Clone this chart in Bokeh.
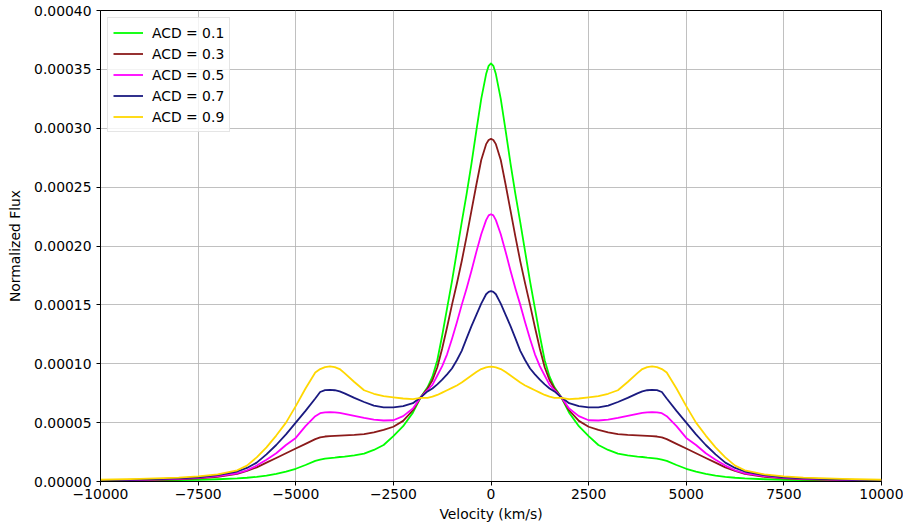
from bokeh.plotting import figure
from bokeh.models import Range1d, FixedTicker, PrintfTickFormatter, ColumnDataSource
from bokeh.embed import file_html
from bokeh.resources import INLINE

# ---- data (flux values in units of 1e-6) ----
velocity = [-10000, -9000, -8000, -7500, -7000, -6500, -6250, -6000, -5750, -5500,
            -5250, -5000, -4750, -4500, -4375, -4250, -4125, -4000, -3875, -3750,
            -3500, -3250, -3000, -2750, -2500, -2250, -2000, -1800, -1625, -1500,
            -1375, -1250, -1125, -1000, -875, -750, -625, -500, -375, -250,
            -125, -60, 0,
            60, 125, 250, 375, 500, 625, 750, 875, 1000, 1125,
            1250, 1375, 1500, 1625, 1800, 2000, 2250, 2500, 2750, 3000,
            3250, 3500, 3750, 3875, 4000, 4125, 4250, 4375, 4500, 4750,
            5000, 5250, 5500, 5750, 6000, 6250, 6500, 7000, 7500, 8000,
            9000, 10000]

acd_01 = [0.5, 0.7, 1.1, 1.4, 1.9, 2.6, 3.2, 4.0, 5.0, 6.5,
          8.4, 10.8, 14.0, 17.5, 18.5, 19.4, 19.9, 20.3, 20.8, 21.2,
          22.2, 23.7, 26.8, 31.0, 38.5, 47.0, 58.5, 71.5, 80.0, 89.0,
          103.0, 124.0, 147.0, 170.0, 195.0, 220.0, 244.0, 270.0, 298.0, 325.0,
          346.0, 353.0, 355.0,
          353.0, 346.0, 325.0, 298.0, 270.0, 244.0, 220.0, 195.0, 170.0, 147.0,
          124.0, 103.0, 89.0, 80.0, 71.5, 58.5, 47.0, 38.5, 31.0, 26.8,
          23.7, 22.2, 21.2, 20.8, 20.3, 19.9, 19.4, 18.5, 17.5, 14.0,
          10.8, 8.4, 6.5, 5.0, 4.0, 3.2, 2.6, 1.9, 1.4, 1.1,
          0.7, 0.5]

acd_03 = [0.8, 1.2, 1.9, 2.6, 4.0, 6.5, 9.0, 12.0, 16.0, 20.0,
          24.0, 28.0, 32.0, 36.0, 37.5, 38.2, 38.6, 38.8, 39.0, 39.2,
          39.6, 40.3, 41.8, 43.8, 46.5, 51.5, 60.5, 71.5, 79.0, 86.0,
          97.0, 113.0, 131.0, 150.0, 168.0, 187.0, 208.0, 230.0, 252.0, 273.0,
          286.5, 290.0, 291.0,
          290.0, 286.5, 273.0, 252.0, 230.0, 208.0, 187.0, 168.0, 150.0, 131.0,
          113.0, 97.0, 86.0, 79.0, 71.5, 60.5, 51.5, 46.5, 43.8, 41.8,
          40.3, 39.6, 39.2, 39.0, 38.8, 38.6, 38.2, 37.5, 36.0, 32.0,
          28.0, 24.0, 20.0, 16.0, 12.0, 9.0, 6.5, 4.0, 2.6, 1.9,
          1.2, 0.8]

acd_05 = [0.9, 1.4, 2.3, 3.2, 4.5, 7.0, 9.5, 13.5, 18.5, 24.0,
          31.0, 37.0, 47.0, 55.5, 58.0, 58.7, 58.9, 58.7, 58.2, 57.5,
          55.8, 54.0, 52.6, 51.8, 52.0, 55.5, 62.0, 71.5, 77.5, 82.0,
          90.0, 98.0, 108.0, 121.0, 135.0, 150.0, 164.0, 179.0, 195.0, 210.0,
          222.0, 226.0, 227.0,
          226.0, 222.0, 210.0, 195.0, 179.0, 164.0, 150.0, 135.0, 121.0, 108.0,
          98.0, 90.0, 82.0, 77.5, 71.5, 62.0, 55.5, 52.0, 51.8, 52.6,
          54.0, 55.8, 57.5, 58.2, 58.7, 58.9, 58.7, 58.0, 55.5, 47.0,
          37.0, 31.0, 24.0, 18.5, 13.5, 9.5, 7.0, 4.5, 3.2, 2.3,
          1.4, 0.9]

acd_07 = [1.0, 1.6, 2.6, 3.6, 5.5, 8.5, 11.5, 16.0, 23.0, 31.0,
          40.0, 50.0, 60.0, 70.5, 76.0, 77.6, 77.9, 77.5, 76.5, 74.8,
          71.0, 67.5, 64.5, 63.0, 63.0, 64.0, 66.5, 71.5, 76.5, 79.0,
          82.5, 86.5, 91.0, 96.0, 103.0, 111.0, 121.5, 132.0, 141.5, 151.0,
          159.0, 161.0, 161.6,
          161.0, 159.0, 151.0, 141.5, 132.0, 121.5, 111.0, 103.0, 96.0, 91.0,
          86.5, 82.5, 79.0, 76.5, 71.5, 66.5, 64.0, 63.0, 63.0, 64.5,
          67.5, 71.0, 74.8, 76.5, 77.5, 77.9, 77.6, 76.0, 70.5, 60.0,
          50.0, 40.0, 31.0, 23.0, 16.0, 11.5, 8.5, 5.5, 3.6, 2.6,
          1.6, 1.0]

acd_09 = [1.5, 2.2, 3.3, 4.3, 6.0, 9.5, 13.5, 20.5, 29.0, 39.0,
          50.0, 64.0, 79.0, 92.5, 95.5, 97.2, 97.7, 97.2, 95.5, 92.0,
          84.5, 77.5, 74.5, 72.5, 71.5, 70.5, 70.0, 71.0, 71.0, 72.0,
          73.5, 75.5, 77.5, 79.5, 81.5, 84.0, 87.0, 90.0, 93.0, 95.5,
          97.0, 97.4, 97.5,
          97.4, 97.0, 95.5, 93.0, 90.0, 87.0, 84.0, 81.5, 79.5, 77.5,
          75.5, 73.5, 72.0, 71.0, 71.0, 70.0, 70.5, 71.5, 72.5, 74.5,
          77.5, 84.5, 92.0, 95.5, 97.2, 97.7, 97.2, 95.5, 92.5, 79.0,
          64.0, 50.0, 39.0, 29.0, 20.5, 13.5, 9.5, 6.0, 4.3, 3.3,
          2.2, 1.5]

series_labels = ["ACD = 0.1", "ACD = 0.3", "ACD = 0.5", "ACD = 0.7", "ACD = 0.9"]
series_values = [acd_01, acd_03, acd_05, acd_07, acd_09]
series_colors = ["#00ff00", "#8b1a1a", "#ff00ff", "#1a1a80", "#ffd700"]

x_ticks = [-10000, -7500, -5000, -2500, 0, 2500, 5000, 7500, 10000]
y_ticks = [0.0, 0.00005, 0.0001, 0.00015, 0.0002, 0.00025, 0.0003, 0.00035, 0.0004]

FONT = "DejaVu Sans"
FS = "13.9px"

p = figure(width=903, height=531, output_backend="svg", toolbar_location=None,
           x_range=Range1d(-10000, 10000), y_range=Range1d(0, 0.0004),
           min_border_left=100, min_border_right=22, min_border_top=10,
           min_border_bottom=50)

for lab, vals, col in zip(series_labels, series_values, series_colors):
    src = ColumnDataSource(dict(x=velocity, y=[v * 1e-6 for v in vals]))
    p.line("x", "y", source=src, line_color=col, line_width=1.8,
           line_join="round", legend_label=lab)

p.xaxis.ticker = FixedTicker(ticks=x_ticks)
p.yaxis.ticker = FixedTicker(ticks=y_ticks)
p.xaxis.major_label_overrides = {t: (("\u2212" + str(abs(t))) if t < 0 else str(t)) for t in x_ticks}
p.yaxis.formatter = PrintfTickFormatter(format="%.5f")

p.xaxis.axis_label = "Velocity (km/s)"
p.yaxis.axis_label = "Normalized Flux"

for ax in (p.xaxis[0], p.yaxis[0]):
    ax.axis_label_text_font = FONT
    ax.axis_label_text_font_size = FS
    ax.axis_label_text_font_style = "normal"
    ax.axis_label_text_color = "black"
    ax.major_label_text_font = FONT
    ax.major_label_text_font_size = FS
    ax.major_label_text_color = "black"
    ax.axis_line_color = "black"
    ax.major_tick_line_color = "black"
    ax.major_tick_out = 4
    ax.major_tick_in = 0
    ax.minor_tick_line_color = None

p.xaxis.major_label_standoff = 3
p.xaxis.axis_label_standoff = 4
p.yaxis.major_label_standoff = 5
p.yaxis.axis_label_standoff = 8

p.xgrid.ticker = FixedTicker(ticks=x_ticks)
p.ygrid.ticker = FixedTicker(ticks=y_ticks)
p.grid.grid_line_color = "#b0b0b0"
p.grid.grid_line_alpha = 0.8
p.grid.grid_line_width = 1

p.outline_line_color = "black"
p.outline_line_width = 1
p.background_fill_color = "white"
p.border_fill_color = "white"

lg = p.legend[0]
lg.location = "top_left"
lg.margin = 7
lg.padding = 5
lg.spacing = 2
lg.glyph_width = 30
lg.glyph_height = 19
lg.label_height = 19
lg.label_standoff = 9
lg.label_text_font = FONT
lg.label_text_font_size = FS
lg.label_text_color = "black"
lg.border_line_color = "#cccccc"
lg.border_line_width = 1
lg.background_fill_color = "white"
lg.background_fill_alpha = 0.8

open("out.html", "w").write(file_html(p, INLINE))
